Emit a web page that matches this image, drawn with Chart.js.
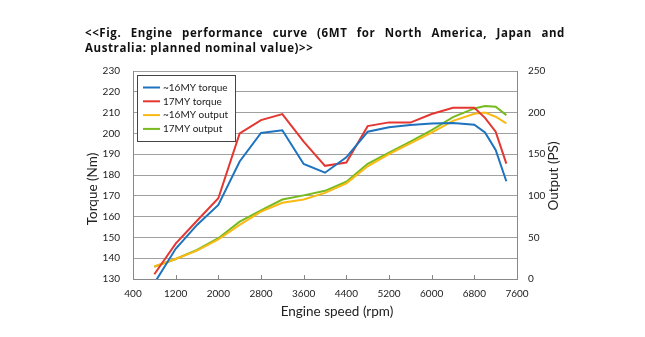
<!DOCTYPE html>
<html>
<head>
<meta charset="utf-8">
<script src="https://cdn.jsdelivr.net/npm/chart.js@4"></script>
<style>
  body { margin: 0; background: #fff; }
  #wrap { position: relative; width: 645px; height: 337px; }
  .title { position: absolute; left: 85px; width: 480px; font: bold 11.5px "Open Sans", sans-serif; letter-spacing: 0.6px; color: #111; }
  #t1 { top: 25px; text-align: justify; text-align-last: justify; }
  #t2 { top: 39.5px; }
</style>
</head>
<body>
<div id="wrap">
  <div class="title" id="t1">&lt;&lt;Fig. Engine performance curve (6MT for North America, Japan and</div>
  <div class="title" id="t2">Australia: planned nominal value)&gt;&gt;</div>
  <canvas id="perfChart"></canvas>
</div>
<script>
// engine speed (rpm) at each measured point
const rpm = [800, 1200, 1600, 2000, 2400, 2800, 3200, 3600, 4000, 4400, 4800, 5200, 5600, 6000, 6400, 6800, 7000, 7200, 7400];

// torque in Nm (left axis)
const torque16 = [128, 144.5, 156, 165.6, 186.5, 200.2, 201.5, 185.3, 181.1, 188.5, 200.8, 203, 204, 204.8, 205, 204.2, 200.5, 192, 177];
const torque17 = [132.3, 147, 158, 168.8, 200, 206.4, 209.3, 196, 184.4, 186, 203.5, 205.3, 205.2, 209.3, 212.3, 212.3, 207.5, 200.8, 185.5];

// output in PS (right axis)
const output16 = [15, 24, 34, 47.5, 65, 81, 91.7, 95.5, 103.5, 115, 135.5, 150, 163, 176, 190, 198.5, 200, 195, 187];
const output17 = [14.8, 24, 35, 49, 69, 82.5, 95.5, 100.5, 106, 117, 138.5, 152, 165, 179, 194.5, 205, 208, 207, 197];

const seriesLabels = ['~16MY torque', '17MY torque', '~16MY output', '17MY output'];
const colors = ['rgb(30,115,190)', 'rgb(228,55,50)', 'rgb(250,185,20)', 'rgb(118,186,30)'];

const xTicks = [400, 1200, 2000, 2800, 3600, 4400, 5200, 6000, 6800, 7600];

const pts = arr => arr.map((v, i) => ({ x: rpm[i], y: v }));

const FONT = 'Lato, sans-serif';
const TEXT = '#222';
const plain = v => String(v);

// legend box inside the plot, axis titles and inward x ticks
const extras = {
  id: 'extras',
  afterDraw(chart) {
    const ctx = chart.ctx;
    const a = chart.chartArea;
    ctx.save();

    // x ticks pointing into the plot
    const xs = chart.scales.x;
    ctx.strokeStyle = '#888';
    ctx.lineWidth = 1;
    xTicks.forEach(v => {
      const px = Math.round(xs.getPixelForValue(v)) + 0.5;
      ctx.beginPath();
      ctx.moveTo(px, a.bottom);
      ctx.lineTo(px, a.bottom - 4);
      ctx.stroke();
    });

    // legend
    const lx = a.left + 4, ly = a.top + 4, lw = 98, lh = 66;
    ctx.fillStyle = '#fff';
    ctx.fillRect(lx, ly, lw, lh);
    ctx.strokeStyle = '#444';
    ctx.strokeRect(lx + 0.5, ly + 0.5, lw, lh);
    ctx.font = '10px ' + FONT;
    ctx.textBaseline = 'middle';
    chart.data.datasets.forEach((ds, i) => {
      const y = ly + 12.5 + i * 13.8;
      ctx.strokeStyle = ds.borderColor;
      ctx.lineWidth = 2;
      ctx.beginPath();
      ctx.moveTo(lx + 6, y);
      ctx.lineTo(lx + 23, y);
      ctx.stroke();
      ctx.fillStyle = TEXT;
      ctx.textAlign = 'left';
      ctx.fillText(ds.label, lx + 26, y);
    });

    // axis titles
    ctx.fillStyle = TEXT;
    ctx.font = '13.5px ' + FONT;
    ctx.textAlign = 'center';
    ctx.textBaseline = 'middle';
    ctx.fillText('Engine speed (rpm)', a.left + (a.right - a.left) / 2 + 12, a.bottom + 33);

    ctx.save();
    ctx.translate(a.left - 40, (a.top + a.bottom) / 2 + 14);
    ctx.rotate(-Math.PI / 2);
    ctx.fillText('Torque (Nm)', 0, 0);
    ctx.restore();

    ctx.save();
    ctx.translate(a.right + 37, (a.top + a.bottom) / 2 + 1);
    ctx.rotate(-Math.PI / 2);
    ctx.fillText('Output (PS)', 0, 0);
    ctx.restore();

    ctx.restore();
  }
};

const ctx = document.getElementById('perfChart').getContext('2d');
new Chart(ctx, {
  type: 'line',
  data: {
    datasets: [
      { label: seriesLabels[0], data: pts(torque16), borderColor: colors[0], yAxisID: 'y' },
      { label: seriesLabels[1], data: pts(torque17), borderColor: colors[1], yAxisID: 'y' },
      { label: seriesLabels[2], data: pts(output16), borderColor: colors[2], yAxisID: 'y1' },
      { label: seriesLabels[3], data: pts(output17), borderColor: colors[3], yAxisID: 'y1' }
    ]
  },
  options: {
    responsive: true,
    maintainAspectRatio: false,
    animation: false,
    layout: { padding: { top: 71, left: 0, right: 0, bottom: 0 } },
    elements: {
      line: { borderWidth: 2, tension: 0, fill: false },
      point: { radius: 0 }
    },
    plugins: {
      legend: { display: false },
      tooltip: { enabled: false }
    },
    scales: {
      x: {
        type: 'linear',
        min: 400,
        max: 7600,
        afterBuildTicks: s => { s.ticks = xTicks.map(v => ({ value: v })); },
        afterFit: s => { s.height = 58; },
        grid: { display: false, drawTicks: false },
        border: { display: true, color: '#888', width: 1 },
        ticks: { padding: 9, color: TEXT, font: { family: FONT, size: 10 }, maxRotation: 0, callback: plain }
      },
      y: {
        position: 'left',
        min: 130,
        max: 230,
        afterFit: s => { s.width = 133; },
        grid: { color: '#a0a0a0', drawTicks: false },
        border: { display: true, color: '#888' },
        ticks: { stepSize: 10, padding: 13, color: TEXT, font: { family: FONT, size: 10 }, callback: plain }
      },
      y1: {
        position: 'right',
        min: 0,
        max: 250,
        afterFit: s => { s.width = 128; },
        grid: { drawOnChartArea: false, drawTicks: false },
        border: { display: true, color: '#888' },
        ticks: { stepSize: 50, padding: 11, color: TEXT, font: { family: FONT, size: 10 }, callback: plain }
      }
    }
  },
  plugins: [extras]
});
</script>
</body>
</html>
